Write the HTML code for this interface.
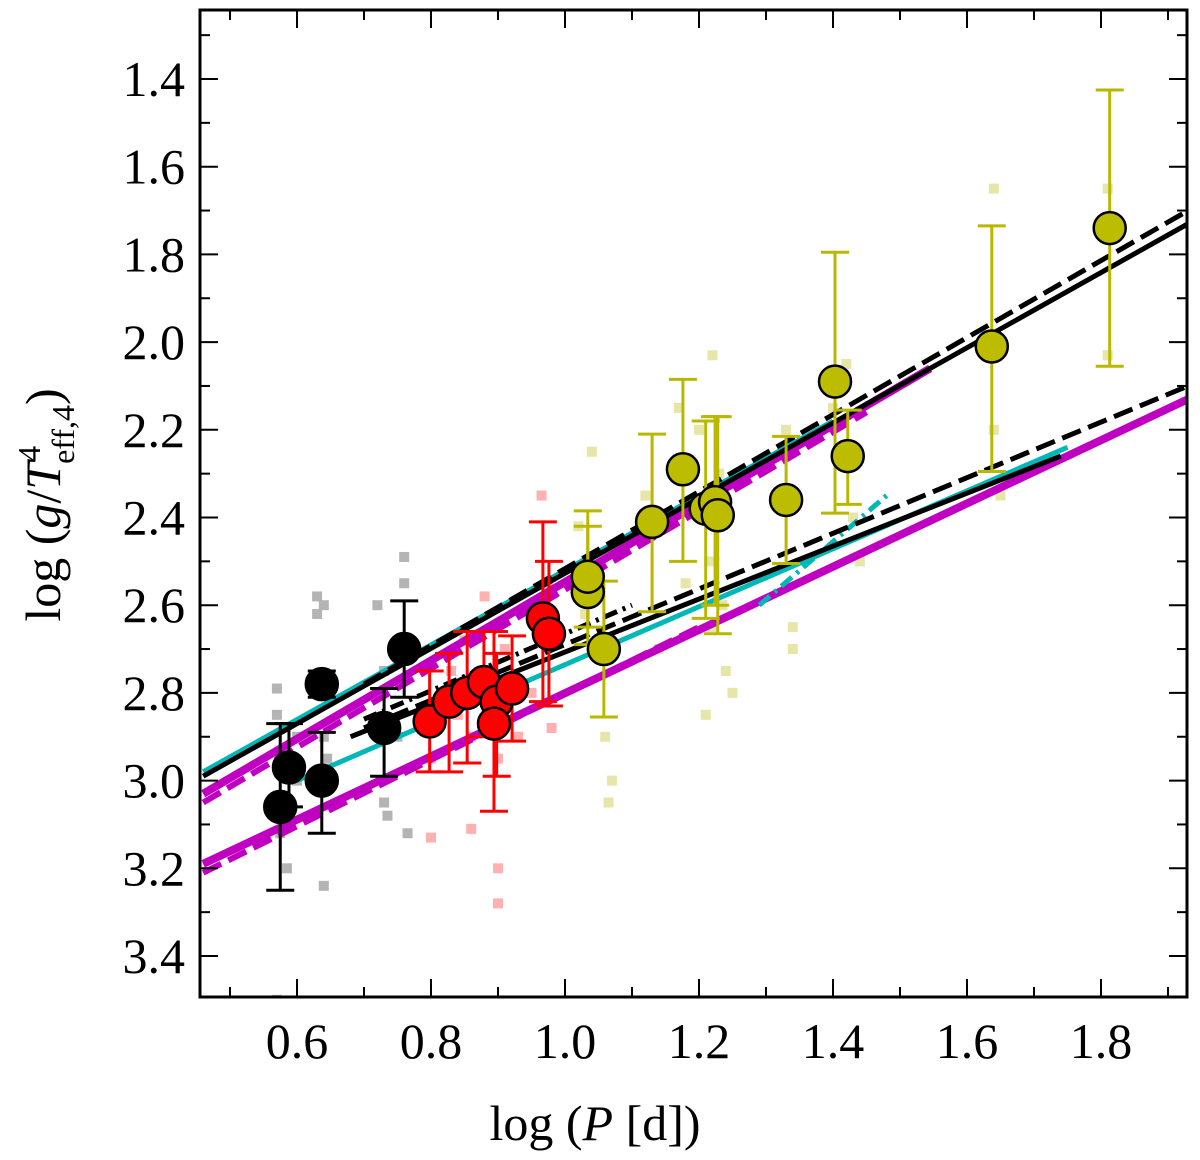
<!DOCTYPE html>
<html><head><meta charset="utf-8">
<style>
html,body{margin:0;padding:0;background:#fff;}
svg{display:block;font-family:"Liberation Serif",serif;}
</style></head>
<body>
<svg id="chart" width="1200" height="1160" viewBox="0 0 1200 1160" xmlns="http://www.w3.org/2000/svg">
<defs><clipPath id="clip"><rect x="200" y="10" width="987" height="987"/></clipPath></defs>
<g id="scatter" clip-path="url(#clip)"></g>
<g id="axes"></g>
</svg>
<script>
// ---- data ----
const blackX=[0.575,0.588,0.637,0.637,0.73,0.76];
const blackY=[3.06,2.97,2.78,3.0,2.88,2.70];
const blackLo=[2.87,2.87,2.75,2.89,2.79,2.59];
const blackHi=[3.25,3.06,2.81,3.12,2.99,2.81];
const redX=[0.798,0.827,0.854,0.879,0.898,0.894,0.921,0.967,0.976];
const redY=[2.865,2.82,2.80,2.775,2.82,2.87,2.79,2.63,2.665];
const redLo=[2.75,2.71,2.66,2.66,2.71,2.66,2.67,2.41,2.50];
const redHi=[2.98,2.98,2.96,2.90,2.99,3.07,2.91,2.82,2.83];
const yelX=[1.034,1.034,1.058,1.13,1.176,1.21,1.224,1.228,1.33,1.403,1.422,1.637,1.813];
const yelY=[2.57,2.535,2.70,2.41,2.29,2.38,2.365,2.395,2.36,2.09,2.26,2.01,1.74];
const yelLo=[2.385,2.42,2.545,2.21,2.085,2.18,2.17,2.17,2.215,1.795,2.155,1.735,1.425];
const yelHi=[2.69,2.65,2.855,2.615,2.50,2.63,2.60,2.665,2.505,2.39,2.37,2.295,2.055];
// faint individual measurements
const grayX=[0.57,0.57,0.575,0.575,0.585,0.6,0.63,0.63,0.64,0.64,0.645,0.72,0.73,0.73,0.735,0.75,0.76,0.76,0.765,0.57,0.6,0.64];
const grayY=[2.79,2.85,2.95,3.12,3.2,2.9,2.58,2.62,2.9,3.24,2.95,2.6,2.75,3.05,3.08,2.9,2.49,2.55,3.12,3.5,3.0,2.6];
const pinkX=[0.8,0.8,0.83,0.85,0.86,0.88,0.89,0.9,0.9,0.91,0.93,0.95,0.965,0.975,0.98,0.86,0.9,0.84];
const pinkY=[2.95,3.13,2.75,2.68,3.11,2.58,2.75,3.28,3.2,2.7,2.9,2.8,2.35,2.55,2.88,2.9,2.95,2.85];
const lyelX=[1.02,1.03,1.04,1.05,1.06,1.065,1.07,1.12,1.14,1.17,1.18,1.2,1.21,1.22,1.22,1.23,1.24,1.25,1.33,1.34,1.34,1.4,1.42,1.43,1.44,1.64,1.64,1.65,1.81,1.81,1.215,1.235];
const lyelY=[2.42,2.62,2.25,2.7,2.9,3.05,3.0,2.35,2.7,2.15,2.55,2.2,2.85,2.03,2.65,2.3,2.75,2.8,2.2,2.65,2.7,2.15,2.05,2.4,2.5,1.65,2.2,2.35,1.65,2.03,2.5,2.6];
// model lines [x0,y0,x1,y1]
const lineSegs=[
 {c:"#c000c0",w:8,d:"",p:[0.46,3.03,1.545,2.06]},
 {c:"#c000c0",w:6,d:"20 8",p:[0.46,3.05,1.45,2.16]},
 {c:"#c000c0",w:8,d:"",p:[0.46,3.19,1.93,2.13]},
 {c:"#c000c0",w:6,d:"20 8",p:[0.46,3.21,1.2,2.65]},
 {c:"#00b8b8",w:5,d:"",p:[0.46,2.98,1.4,2.18]},
 {c:"#00b8b8",w:5,d:"",p:[0.6,3.0,1.75,2.24]},
 {c:"#00b8b8",w:5,d:"14 6 3 6",p:[1.29,2.6,1.48,2.35]},
 {c:"#000",w:5,d:"",p:[0.46,2.99,1.93,1.73]},
 {c:"#000",w:5,d:"20 8",p:[0.7,2.78,1.93,1.70]},
 {c:"#000",w:5,d:"",p:[0.68,2.9,1.74,2.26]},
 {c:"#000",w:5,d:"20 8",p:[0.7,2.88,1.93,2.10]},
 {c:"#000",w:5,d:"14 6 3 6",p:[0.7,2.86,1.1,2.6]}
];
const xTicks=[0.6,0.8,1.0,1.2,1.4,1.6,1.8];
const xTickLabels=["0.6","0.8","1.0","1.2","1.4","1.6","1.8"];
const yTicks=[1.4,1.6,1.8,2.0,2.2,2.4,2.6,2.8,3.0,3.2,3.4];
const yTickLabels=["1.4","1.6","1.8","2.0","2.2","2.4","2.6","2.8","3.0","3.2","3.4"];
// ---- axes ----
const X=v=>297+(v-0.6)/0.2*134;
const Y=v=>79+(v-1.4)/0.2*87.7;
const NS="http://www.w3.org/2000/svg";
function mk(tag,attrs,parent){const e=document.createElementNS(NS,tag);for(const k in attrs)e.setAttribute(k,attrs[k]);parent.appendChild(e);return e;}
const sc=document.getElementById('scatter'), ax=document.getElementById('axes');
function squares(xs,ys,col,name){xs.forEach((x,i)=>{const r=mk('rect',{x:X(x)-5,y:Y(ys[i])-5,width:10,height:10,fill:col},sc);

});}
squares(grayX,grayY,"#b4b4b4","gray-measurement");
squares(pinkX,pinkY,"#ffb0b0","pink-measurement");
squares(lyelX,lyelY,"#e6e6a8","light-yellow-measurement");
lineSegs.forEach(s=>{const l=mk('line',{x1:X(s.p[0]),y1:Y(s.p[1]),x2:X(s.p[2]),y2:Y(s.p[3]),stroke:s.c,'stroke-width':s.w,'stroke-dasharray':s.d},sc);

});
function errs(xs,lo,hi,col){xs.forEach((x,i)=>{const g=mk('g',{stroke:col,'stroke-width':3},sc);


mk('line',{x1:X(x),x2:X(x),y1:Y(lo[i]),y2:Y(hi[i])},g);
mk('line',{x1:X(x)-14,x2:X(x)+14,y1:Y(lo[i]),y2:Y(lo[i])},g);
mk('line',{x1:X(x)-14,x2:X(x)+14,y1:Y(hi[i]),y2:Y(hi[i])},g);});}
errs(blackX,blackLo,blackHi,"#000");errs(redX,redLo,redHi,"#ff0000");errs(yelX,yelLo,yelHi,"#b8b800");
function dots(xs,ys,col,name){xs.forEach((x,i)=>{const c=mk('circle',{cx:X(x),cy:Y(ys[i]),r:16,fill:col,stroke:"#000",'stroke-width':2.5},sc);

});}
dots(blackX,blackY,"#000","black-point");dots(redX,redY,"#ff0000","red-point");dots(yelX,yelY,"#bcbc00","yellow-point");
// frame and ticks
const fr=mk('rect',{x:200,y:10,width:987,height:987,fill:"none",stroke:"#000",'stroke-width':3},ax);


for(let i=4;i<=20;i++){const v=i/10;const x=X(v);if(x<201||x>1186)continue;const major=i%2===0;const L=major?18:10;
mk('line',{x1:x,x2:x,y1:997,y2:997-L,stroke:"#000",'stroke-width':2},ax);mk('line',{x1:x,x2:x,y1:10,y2:10+L,stroke:"#000",'stroke-width':2},ax);}
for(let i=12;i<=36;i++){const v=i/10;const y=Y(v);if(y<11||y>996)continue;const major=i%2===0;const L=major?18:10;
mk('line',{x1:200,x2:200+L,y1:y,y2:y,stroke:"#000",'stroke-width':2},ax);mk('line',{x1:1187,x2:1187-L,y1:y,y2:y,stroke:"#000",'stroke-width':2},ax);}
xTicks.forEach((v,i)=>{const t=mk('text',{x:X(v),y:1058,'font-size':50,'text-anchor':'middle'},ax);t.textContent=xTickLabels[i];

});
yTicks.forEach((v,i)=>{const t=mk('text',{x:185,y:Y(v)+17,'font-size':50,'text-anchor':'end'},ax);t.textContent=yTickLabels[i];

});
</script>
<svg style="position:absolute;left:0;top:0" width="1200" height="1160">
<text x="595" y="1140" font-size="50" text-anchor="middle" font-family="Liberation Serif,serif">log (<tspan font-style="italic">P</tspan> [d])</text>
<text transform="translate(60,505) rotate(-90)" font-size="50" text-anchor="middle" font-family="Liberation Serif,serif">log (<tspan font-style="italic">g</tspan>/<tspan font-style="italic">T</tspan><tspan font-size="32" dy="-20">4</tspan><tspan font-size="32" dx="-18" dy="34">eff,4</tspan><tspan dy="-14">)</tspan></text>
</svg>
</body></html>
